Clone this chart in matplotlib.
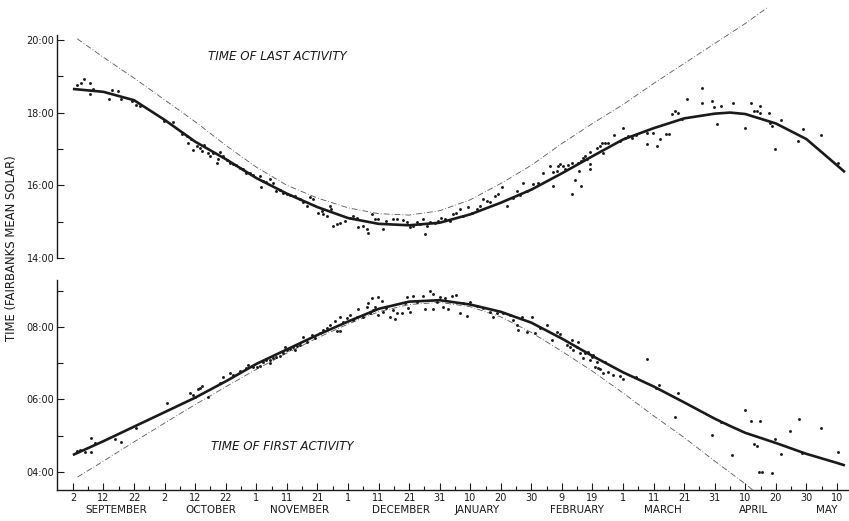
import matplotlib
matplotlib.use('Agg')
import matplotlib.pyplot as plt
from matplotlib.ticker import FixedLocator

# days counted from Sep 2, times in decimal hours (Fairbanks mean solar)

# fitted curves
FIT_DAYS = [0, 10, 20, 30, 40, 50, 60, 70, 80, 90, 100, 110, 120, 130, 140,
            150, 160, 170, 180, 190, 200, 210, 215, 220, 230, 240, 250, 252.6]
LAST_FIT = [18.65, 18.57, 18.34, 17.80, 17.20, 16.72, 16.20, 15.77, 15.40, 15.10,
            14.94, 14.90, 14.97, 15.20, 15.52, 15.88, 16.33, 16.80, 17.26, 17.57,
            17.84, 17.97, 18.00, 17.96, 17.70, 17.27, 16.55, 16.36]
FIRST_FIT = [4.47, 4.85, 5.25, 5.65, 6.05, 6.50, 6.98, 7.38, 7.78, 8.15, 8.50,
             8.70, 8.74, 8.62, 8.42, 8.12, 7.68, 7.20, 6.75, 6.36, 5.92, 5.47,
             5.27, 5.08, 4.80, 4.50, 4.25, 4.18]

# sunset / sunrise (dash-dot)
SUNSET_DAYS = [1.4, 10, 20, 30, 40, 50, 60, 70, 80, 90, 100, 110, 120, 130, 140,
               150, 160, 170, 180, 190, 200, 210, 220, 227.4]
SUNSET = [20.03, 19.52, 18.95, 18.35, 17.75, 17.10, 16.50, 16.00, 15.65, 15.38,
          15.22, 15.18, 15.30, 15.60, 16.05, 16.55, 17.15, 17.70, 18.22, 18.80,
          19.35, 19.90, 20.45, 20.90]
SUNRISE_DAYS = [1.5, 10, 20, 30, 40, 50, 60, 70, 80, 90, 100, 110, 120, 130, 140,
                150, 160, 170, 180, 190, 200, 210, 220, 222.5]
SUNRISE = [3.86, 4.30, 4.83, 5.35, 5.86, 6.35, 6.83, 7.28, 7.70, 8.08, 8.42,
           8.62, 8.68, 8.56, 8.28, 7.85, 7.33, 6.78, 6.18, 5.55, 4.95, 4.30,
           3.67, 3.50]

# observed last activity
LAST_DAY = [1.4, 2.6, 3.7, 5.6, 5.6, 6.6, 11.8, 12.7, 14.6, 15.9, 19.2, 20.8, 21.9,
            29.8, 32.6, 35.6, 37.2, 37.7, 38.8, 39.4, 40.5, 41.6, 42.1, 42.9, 44.3,
            44.8, 45.9, 47.0, 47.6, 48.1, 49.2, 50.3, 51.4, 52.4, 53.5, 54.6, 55.7,
            56.8, 57.9, 58.9, 61.1, 61.7, 62.2, 63.3, 64.4, 65.5, 66.6, 67.7, 68.8,
            69.9, 71.0, 72.6, 74.3, 75.4, 76.5, 77.6, 78.6, 80.3, 81.4, 81.9, 83.0,
            84.1, 84.6, 85.2, 86.3, 87.4, 89.0, 90.6, 91.7, 92.8, 93.4, 95.0, 96.1,
            96.6, 97.7, 98.8, 99.9, 101.5, 102.6, 104.8, 105.9, 108.1, 109.2, 110.3,
            111.4, 112.5, 113.5, 114.6, 115.2, 115.7, 116.8, 118.5, 119.5, 120.6,
            121.7, 123.4, 124.4, 125.5, 126.6, 127.7, 129.4, 130.5, 132.1, 133.2,
            134.3, 135.4, 136.5, 138.1, 139.2, 140.3, 141.9, 144.1, 145.2, 146.3,
            147.4, 148.5, 150.6, 152.3, 153.9, 156.1, 157.2, 158.3, 158.8, 157.2,
            159.4, 160.4, 161.0, 162.1, 163.2, 163.2, 164.3, 165.4, 165.7, 166.1,
            166.4, 167.0, 167.5, 168.1, 169.2, 169.2, 169.2, 171.4, 172.4, 173.0,
            173.5, 174.1, 175.2, 177.1, 179.0, 180.1, 180.6, 181.7, 182.8, 184.2,
            187.7, 188.0, 189.9, 191.0, 192.1, 194.0, 195.1, 195.9, 197.0, 197.9,
            199.2, 201.0, 205.7, 205.9, 209.0, 209.9, 210.6, 211.9, 215.9, 219.9,
            221.9, 222.8, 223.7, 224.8, 224.8, 227.9, 228.1, 228.6, 229.7, 231.7,
            237.3, 238.8, 244.7, 250.4]
LAST_TIME = [18.77, 18.81, 18.93, 18.81, 18.51, 18.65, 18.38, 18.61, 18.60, 18.36,
             18.31, 18.22, 18.17, 17.76, 17.74, 17.42, 17.35, 17.17, 17.26, 16.97,
             17.08, 17.03, 16.94, 17.12, 16.88, 16.80, 16.88, 16.62, 16.71, 16.91,
             16.80, 16.69, 16.62, 16.58, 16.56, 16.48, 16.44, 16.35, 16.33, 16.27,
             16.25, 15.94, 16.12, 16.09, 16.16, 16.05, 15.84, 15.87, 15.80, 15.75,
             15.73, 15.71, 15.62, 15.54, 15.42, 15.69, 15.62, 15.25, 15.30, 15.21,
             15.16, 15.42, 15.34, 14.87, 14.93, 14.96, 15.02, 15.11, 15.16, 15.09,
             14.84, 14.89, 14.79, 14.70, 15.21, 15.07, 15.07, 14.81, 15.02, 15.07,
             15.07, 15.04, 14.98, 14.84, 14.89, 14.98, 14.93, 15.07, 14.66, 14.87,
             14.98, 14.96, 15.02, 15.11, 15.07, 15.02, 15.21, 15.25, 15.34, 15.16,
             15.39, 15.23, 15.36, 15.43, 15.62, 15.57, 15.53, 15.71, 15.75, 15.94,
             15.42, 15.66, 15.84, 15.73, 16.07, 15.84, 16.03, 16.07, 16.35, 16.53,
             15.98, 16.39, 16.53, 16.36, 16.59, 16.53, 16.44, 16.56, 16.62, 15.75,
             16.14, 16.62, 16.39, 15.98, 16.67, 16.76, 16.80, 16.71, 16.58, 16.46,
             16.91, 17.03, 17.08, 17.15, 16.88, 17.17, 17.17, 17.37, 17.21, 17.58,
             17.31, 17.35, 17.31, 17.37, 17.44, 17.14, 17.44, 17.08, 17.26, 17.40,
             17.40, 17.97, 18.04, 17.99, 17.83, 18.36, 18.68, 18.26, 18.33, 18.16,
             17.69, 18.19, 18.27, 17.58, 18.25, 18.05, 18.03, 17.99, 18.17, 17.99,
             17.72, 17.64, 16.99, 17.79, 17.21, 17.55, 17.38, 16.60]

# observed first activity
FIRST_DAY = [1.2, 2.3, 3.9, 5.8, 5.8, 7.2, 13.7, 15.9, 20.8, 30.7, 38.3, 39.4, 40.0,
             41.0, 41.6, 42.4, 44.3, 48.1, 49.2, 51.4, 52.4, 54.6, 56.8, 57.4, 59.0,
             60.1, 61.2, 62.2, 63.3, 64.4, 65.5, 66.6, 67.7, 69.4, 69.9, 71.0, 72.1,
             73.2, 74.3, 64.5, 68.8, 72.6, 75.4, 76.5, 78.1, 79.2, 80.8, 81.9, 83.0,
             84.1, 85.7, 86.3, 87.4, 87.4, 88.5, 89.6, 90.6, 91.7, 92.8, 93.4, 95.0,
             96.1, 96.6, 97.2, 97.7, 98.3, 98.8, 99.9, 99.9, 101.0, 101.5, 102.6,
             103.7, 104.8, 105.4, 105.9, 107.6, 108.6, 109.2, 109.7, 110.3, 111.4,
             112.5, 114.6, 115.2, 116.8, 117.7, 117.9, 119.0, 120.1, 121.0, 121.7,
             122.8, 123.9, 125.5, 126.6, 127.7, 128.8, 129.9, 132.1, 134.3, 136.5,
             137.5, 138.6, 140.8, 143.0, 144.1, 145.2, 145.7, 146.8, 148.5, 150.1,
             151.2, 152.8, 155.0, 156.6, 158.3, 159.4, 161.5, 162.6, 163.2, 163.7,
             164.8, 165.4, 165.9, 167.0, 167.5, 168.6, 169.2, 169.7, 170.3, 170.8,
             171.4, 171.9, 172.4, 173.5, 174.1, 175.2, 176.8, 179.0, 180.1, 184.2,
             187.9, 190.8, 191.9, 197.0, 198.1, 209.0, 211.9, 215.7, 219.9, 221.9,
             222.8, 223.7, 224.5, 225.6, 224.8, 228.6, 229.7, 231.6, 234.6, 237.7,
             238.4, 244.7, 250.4]
FIRST_TIME = [4.59, 4.61, 4.56, 4.93, 4.54, 4.79, 4.91, 4.84, 5.21, 5.91, 6.19, 6.12,
              6.06, 6.28, 6.31, 6.37, 6.08, 6.46, 6.61, 6.72, 6.68, 6.79, 6.86, 6.95,
              6.90, 6.90, 6.92, 7.04, 7.09, 7.09, 7.14, 7.16, 7.20, 7.44, 7.37, 7.38,
              7.46, 7.48, 7.50, 7.00, 7.27, 7.37, 7.73, 7.60, 7.78, 7.69, 7.83, 7.92,
              7.96, 8.06, 8.17, 7.89, 7.89, 8.28, 8.15, 8.24, 8.33, 8.19, 8.28, 8.49,
              8.28, 8.56, 8.65, 8.38, 8.79, 8.47, 8.54, 8.33, 8.82, 8.73, 8.42, 8.52,
              8.28, 8.47, 8.21, 8.38, 8.40, 8.65, 8.84, 8.52, 8.42, 8.86, 8.70, 8.86,
              8.49, 9.00, 8.49, 8.91, 8.70, 8.84, 8.54, 8.79, 8.49, 8.86, 8.88, 8.40,
              8.65, 8.31, 8.70, 8.58, 8.52, 8.42, 8.28, 8.38, 8.38, 8.33, 8.19, 8.06,
              7.92, 8.28, 7.87, 8.27, 7.84, 7.96, 8.06, 7.64, 7.87, 7.81, 7.50, 7.44,
              7.64, 7.37, 7.46, 7.60, 7.27, 7.14, 7.27, 7.32, 7.09, 7.18, 7.23, 6.90,
              7.04, 6.86, 6.83, 6.72, 7.04, 6.77, 6.68, 6.65, 6.57, 6.61, 7.11, 6.31,
              6.40, 5.53, 6.17, 5.02, 5.39, 4.47, 5.71, 5.40, 4.76, 4.72, 3.99, 3.99,
              5.40, 3.96, 4.90, 4.50, 5.14, 5.45, 4.52, 5.21, 4.56]

# axis labels
XTICK_DAYS = list(range(0, 251, 10))
XTICK_LABELS = ['2', '12', '22', '2', '12', '22', '1', '11', '21', '1', '11', '21',
                '31', '10', '20', '30', '9', '19', '1', '11', '21', '31', '10', '20',
                '30', '10']
MONTHS = ['SEPTEMBER', 'OCTOBER', 'NOVEMBER', 'DECEMBER', 'JANUARY', 'FEBRUARY',
          'MARCH', 'APRIL', 'MAY']
MONTH_POS = [14.2, 45.1, 74.0, 107.3, 132.4, 164.8, 193.0, 222.8, 246.6]

ink = '#1a1a1a'
plt.rcParams['font.family'] = 'DejaVu Sans'

fig = plt.figure(figsize=(8.49, 5.21), dpi=100)
W, H = 849.0, 521.0
x0, x1 = 57, 848
ax1 = fig.add_axes([x0 / W, 1 - 258 / H, (x1 - x0) / W, (258 - 3.5) / H])
ax2 = fig.add_axes([x0 / W, 1 - 490.1 / H, (x1 - x0) / W, (490.1 - 279.9) / H])

dash = (0, (7, 2.5, 1, 2.5))
for ax, days, times, sdays, sun, fit in [
        (ax1, LAST_DAY, LAST_TIME, SUNSET_DAYS, SUNSET, LAST_FIT),
        (ax2, FIRST_DAY, FIRST_TIME, SUNRISE_DAYS, SUNRISE, FIRST_FIT)]:
    ax.plot(sdays, sun, color='#555', lw=0.6, linestyle=dash, zorder=1)
    ax.plot(days, times, 'o', ms=2.1, color=ink, mec='none', zorder=2)
    ax.plot(FIT_DAYS, fit, color=ink, lw=1.9, solid_capstyle='butt', zorder=3)
    ax.set_xlim(-5.2, 253.6)
    for s in ['top', 'right']:
        ax.spines[s].set_visible(False)
    ax.spines['left'].set_linewidth(1.0)
    ax.spines['left'].set_color(ink)
    ax.tick_params(axis='y', which='major', direction='in', length=5, width=0.8,
                   pad=2, labelsize=7, colors=ink)
    ax.tick_params(axis='y', which='minor', direction='in', length=4, width=0.8,
                   colors=ink)

# top panel
ax1.set_ylim(14, 21)
ax1.spines['bottom'].set_visible(False)
ax1.spines['left'].set_bounds(14, 20.14)
ax1.set_xticks([])
ax1.yaxis.set_major_locator(FixedLocator([14, 16, 18, 20]))
ax1.yaxis.set_minor_locator(FixedLocator([15, 17, 19]))
ax1.set_yticklabels(['14:00', '16:00', '18:00', '20:00'])
ax1.text(44.2, 19.55, 'TIME OF LAST ACTIVITY', fontsize=8.6, style='italic',
         color=ink, ha='left', va='center')

# bottom panel
ax2.set_ylim(3.5, 9.3)
ax2.spines['bottom'].set_linewidth(1.0)
ax2.spines['bottom'].set_color(ink)
ax2.yaxis.set_major_locator(FixedLocator([4, 6, 8]))
ax2.yaxis.set_minor_locator(FixedLocator([5, 7, 9]))
ax2.set_yticklabels(['04:00', '06:00', '08:00'])
ax2.xaxis.set_major_locator(FixedLocator(XTICK_DAYS))
ax2.xaxis.set_minor_locator(FixedLocator([d + 5 for d in XTICK_DAYS[:-1]]))
ax2.set_xticklabels(XTICK_LABELS)
ax2.tick_params(axis='x', which='major', direction='in', length=5, width=0.8,
                pad=2, labelsize=7, colors=ink)
ax2.tick_params(axis='x', which='minor', direction='in', length=3, width=0.8,
                colors=ink)
ax2.text(45.1, 4.70, 'TIME OF FIRST ACTIVITY', fontsize=8.6, style='italic',
         color=ink, ha='left', va='center')
for name, pos in zip(MONTHS, MONTH_POS):
    ax2.text(pos, -0.097, name, transform=ax2.get_xaxis_transform(),
             fontsize=7.5, color=ink, ha='center', va='center')

fig.text(12 / W, 1 - 248 / H, 'TIME (FAIRBANKS MEAN SOLAR)', rotation=90,
         fontsize=8.4, color=ink, ha='center', va='center')

fig.savefig('out.png', dpi=100, facecolor='white')
